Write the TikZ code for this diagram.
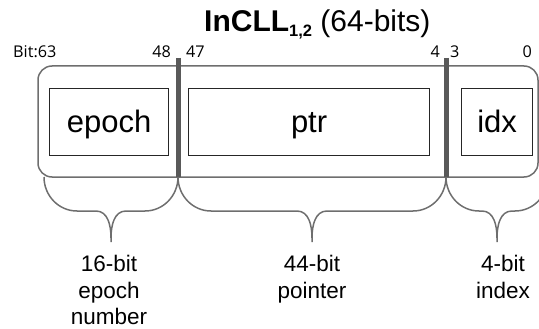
\documentclass[tikz,border=0pt]{standalone}
\usepackage{fontspec}
\setmainfont{Liberation Sans}
\newfontfamily\bitfont{Open Sans}
\definecolor{framegray}{HTML}{6E6E6E}
\definecolor{bargray}{HTML}{595959}
\definecolor{boxblack}{HTML}{262626}
\begin{document}
\begin{tikzpicture}[x=1pt,y=-1pt,
  field/.style={draw=boxblack,line width=1.2pt,inner sep=0pt,anchor=north west,text height=27pt,text depth=6pt,font=\fontsize{31}{31}\selectfont},
  bitlbl/.style={inner sep=0pt,font=\bitfont\fontsize{16.2}{16.2}\selectfont},
  bracepath/.style={draw=framegray,line width=1.5pt},
  sizelbl/.style={inner sep=0pt,align=center,anchor=north,font=\fontsize{22.5}{26.5}\selectfont},
  divider/.style={draw=bargray,line width=5pt}]
\useasboundingbox (0,0) rectangle (539,329);
% title
\node[inner sep=0pt,anchor=base west] (title) at (204,32)
  {\fontsize{30}{30}\selectfont\bfseries InCLL\raisebox{-5pt}{\fontsize{16.5}{16.5}\selectfont\bfseries 1,2}\mdseries\ (64-bits)};
% bit labels
\node[bitlbl,anchor=base west] (b63) at (13,58) {Bit:63};
\node[bitlbl,anchor=base east] (b48) at (171,58) {48};
\node[bitlbl,anchor=base west] (b47) at (186,58) {47};
\node[bitlbl,anchor=base east] (b4) at (440,58) {4};
\node[bitlbl,anchor=base west] (b3) at (450,58) {3};
\node[bitlbl,anchor=base east] (b0) at (532,58) {0};
% outer frame
\draw[draw=framegray,line width=1.5pt,rounded corners=14pt] (38,66) rectangle (538,177);
% fields
\node[field,minimum width=119pt,minimum height=67pt] (epoch) at (49,88) {epoch};
\node[field,minimum width=241pt,minimum height=67pt] (ptr) at (188,88) {ptr};
\node[field,minimum width=71pt,minimum height=67pt] (idx) at (461,88) {idx};
% dividers
\coordinate (d1t) at (178,58); \coordinate (d1b) at (178,177);
\coordinate (d2t) at (446,58); \coordinate (d2b) at (446,177);
\draw[divider] (d1t) -- (d1b);
\draw[divider] (d2t) -- (d2b);
% braces
\coordinate (eL) at (44,177); \coordinate (eT) at (111,242);
\coordinate (pT) at (312,242);
\coordinate (iR) at (548,177); \coordinate (iT) at (497,242);
\draw[bracepath] (eL) to[out=-90,in=180] (77,211) -- (96,211) to[out=0,in=90] (111,238) -- (eT);
\draw[bracepath] (d1b) to[out=-90,in=0] (145,211) -- (126,211) to[out=180,in=90] (111,238);
\draw[bracepath] (d1b) to[out=-90,in=180] (211,211) -- (297,211) to[out=0,in=90] (312,238) -- (pT);
\draw[bracepath] (d2b) to[out=-90,in=0] (413,211) -- (327,211) to[out=180,in=90] (312,238);
\draw[bracepath] (d2b) to[out=-90,in=180] (479,211) -- (482,211) to[out=0,in=90] (497,238) -- (iT);
\draw[bracepath] (iR) to[out=-90,in=0] (515,211) -- (512,211) to[out=180,in=90] (497,238);
% size labels
\node[sizelbl] (l16) at (109,255) {16-bit\\epoch\\number};
\node[sizelbl] (l44) at (312,255) {44-bit\\pointer};
\node[sizelbl] (l4) at (503,255) {4-bit\\index};
\end{tikzpicture}
\end{document}
